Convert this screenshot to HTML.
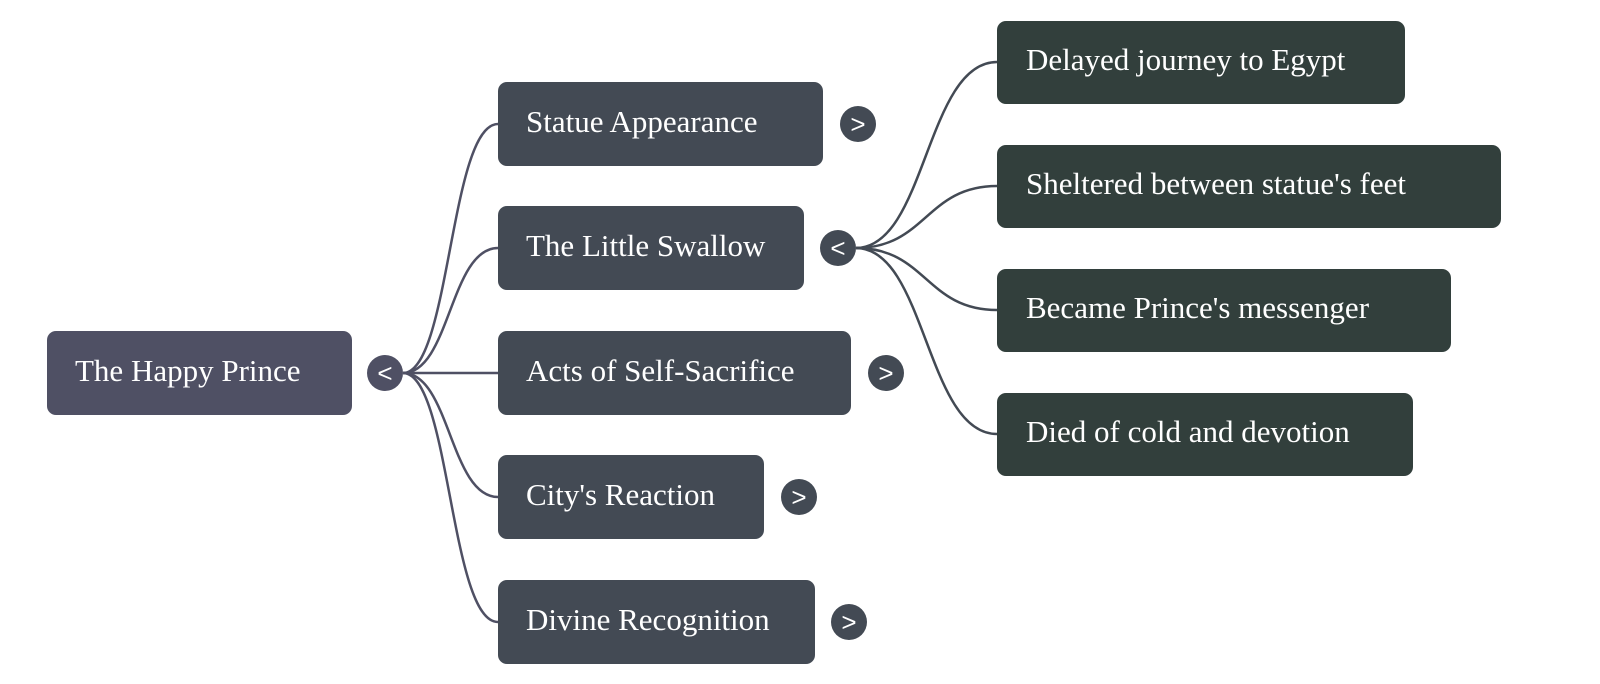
<!DOCTYPE html>
<html><head><style>
body{margin:0;width:1600px;height:684px;background:#fff;position:relative;overflow:hidden;font-family:"Liberation Serif",serif;}
.b{position:absolute;color:#fff;font-size:31px;border-radius:9px;box-sizing:border-box;display:flex;align-items:center;white-space:nowrap;padding-bottom:5px;}
.t{position:absolute;width:36px;height:36px;border-radius:50%;color:#fff;font-family:"Liberation Sans",sans-serif;font-size:26px;display:flex;align-items:center;justify-content:center;line-height:1;}
</style></head><body>
<svg width="1600" height="684" style="position:absolute;left:0;top:0" fill="none" stroke-width="2.5">
<g stroke="#4f5064">
<path d="M403 373 C450 373 450 124 498 124"/>
<path d="M403 373 C450 373 450 248 498 248"/>
<path d="M403 373 L498 373"/>
<path d="M403 373 C450 373 450 497 498 497"/>
<path d="M403 373 C450 373 450 622 498 622"/>
</g>
<g stroke="#434a54">
<path d="M856 248 C926 248 926 62 997 62"/>
<path d="M856 248 C926 248 926 186 997 186"/>
<path d="M856 248 C926 248 926 310 997 310"/>
<path d="M856 248 C926 248 926 434 997 434"/>
</g>
</svg>
<div class="b" style="left:47px;top:331px;width:305px;height:84px;background:#4f5064;padding-left:28px">The Happy Prince</div>
<div class="t" style="left:367px;top:355px;background:#4f5064">&lt;</div>

<div class="b" style="left:498px;top:82px;width:325px;height:84px;background:#434a54;padding-left:28px">Statue Appearance</div>
<div class="t" style="left:840px;top:106px;background:#434a54">&gt;</div>
<div class="b" style="left:498px;top:206px;width:306px;height:84px;background:#434a54;padding-left:28px">The Little Swallow</div>
<div class="t" style="left:820px;top:230px;background:#434a54">&lt;</div>
<div class="b" style="left:498px;top:331px;width:353px;height:84px;background:#434a54;padding-left:28px">Acts of Self-Sacrifice</div>
<div class="t" style="left:868px;top:355px;background:#434a54">&gt;</div>
<div class="b" style="left:498px;top:455px;width:266px;height:84px;background:#434a54;padding-left:28px">City's Reaction</div>
<div class="t" style="left:781px;top:479px;background:#434a54">&gt;</div>
<div class="b" style="left:498px;top:580px;width:317px;height:84px;background:#434a54;padding-left:28px">Divine Recognition</div>
<div class="t" style="left:831px;top:604px;background:#434a54">&gt;</div>

<div class="b" style="left:997px;top:21px;width:408px;height:83px;background:#323f3c;padding-left:29px">Delayed journey to Egypt</div>
<div class="b" style="left:997px;top:145px;width:504px;height:83px;background:#323f3c;padding-left:29px">Sheltered between statue's feet</div>
<div class="b" style="left:997px;top:269px;width:454px;height:83px;background:#323f3c;padding-left:29px">Became Prince's messenger</div>
<div class="b" style="left:997px;top:393px;width:416px;height:83px;background:#323f3c;padding-left:29px">Died of cold and devotion</div>
</body></html>
